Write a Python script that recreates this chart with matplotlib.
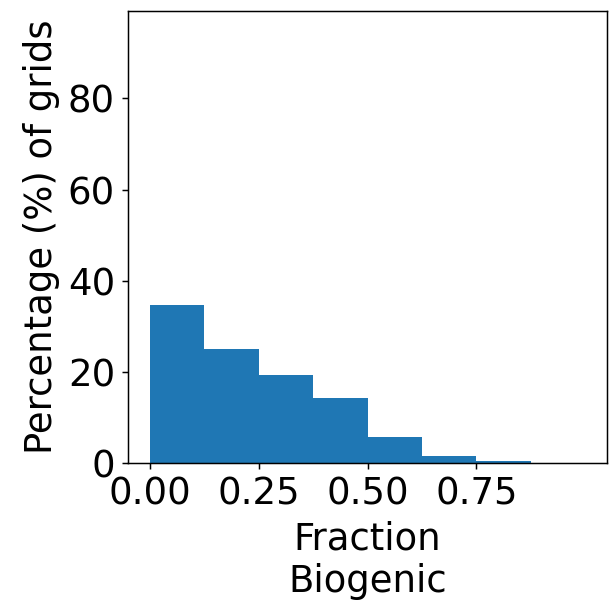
import matplotlib
matplotlib.use("Agg")
import matplotlib.pyplot as plt
import numpy as np

bin_edges = [0.0, 0.125, 0.25, 0.375, 0.5, 0.625, 0.75, 0.875, 1.0]
percentages = [34.6, 25.0, 19.3, 14.3, 5.8, 1.6, 0.5, 0.0]
xticks = [0.00, 0.25, 0.50, 0.75]
xtick_labels = ["0.00", "0.25", "0.50", "0.75"]
yticks = [0, 20, 40, 60, 80]

DPI = 133.33
fig = plt.figure(figsize=(610 / DPI, 600 / DPI), dpi=DPI)
ax = fig.add_axes([128/610, 1 - 463/600, (607-128)/610, (463-11)/600])

centers = [(bin_edges[i] + bin_edges[i+1]) / 2 for i in range(len(percentages))]
ax.hist(centers, bins=bin_edges, weights=percentages, color="#1f77b4")

ax.set_xlim(-0.05, 1.05)
ax.set_ylim(0, 99.2)
ax.set_xticks(xticks)
ax.set_xticklabels(xtick_labels)
ax.set_yticks(yticks)
ax.tick_params(labelsize=20)
ax.set_xlabel("Fraction\nBiogenic", fontsize=20)
ax.set_ylabel("Percentage (%) of grids", fontsize=20)

fig.savefig("out.png", dpi=DPI)
